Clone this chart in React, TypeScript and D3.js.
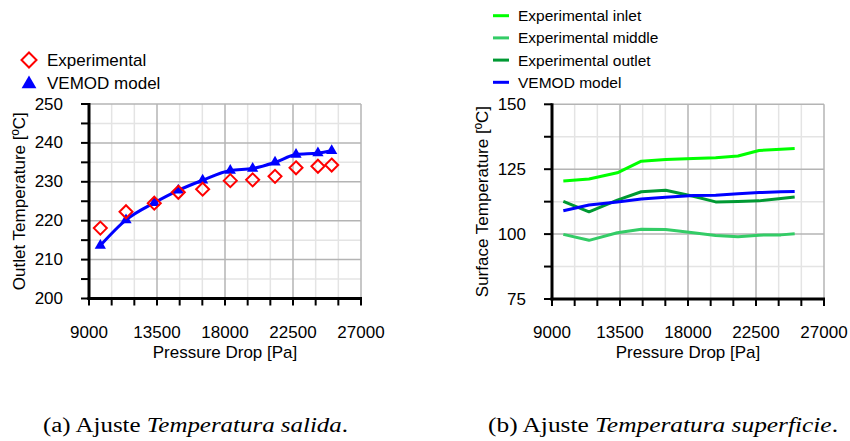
import React, { useEffect, useRef } from 'react';
import * as d3 from 'd3';

// pressure drop of each test point [Pa]
const pressure = [9750, 11450, 13320, 14910, 16520, 18350, 19830, 21310, 22700, 24150, 25060];

// (a) outlet temperature
const expOutlet = [218.1, 222.3, 224.5, 227.3, 228.1, 230.3, 230.5, 231.4, 233.6, 234.0, 234.3];
const modelOutlet = [213.6, 220.2, 224.6, 227.8, 230.4, 232.9, 233.4, 235.0, 237.0, 237.4, 238.0];

// (b) surface temperature
const surfInlet = [120.5, 121.2, 123.6, 128.1, 128.7, 129.1, 129.4, 130.1, 132.2, 132.7, 133.0];
const surfMiddle = [99.9, 97.6, 100.5, 101.9, 101.8, 100.5, 99.5, 99.0, 99.6, 99.7, 100.1];
const surfOutlet = [112.6, 108.6, 113.1, 116.3, 116.9, 114.6, 112.4, 112.6, 112.8, 113.7, 114.3];
const surfModel = [109.0, 111.2, 112.4, 113.5, 114.2, 114.9, 115.0, 115.5, 116.0, 116.3, 116.4];

const xTicks = [9000, 13500, 18000, 22500, 27000];
const outletTicks = [200, 210, 220, 230, 240, 250];
const surfaceTicks = [75, 100, 125, 150];

const FONT = 'Liberation Sans, Arial, sans-serif';

type G = d3.Selection<SVGGElement, unknown, null, undefined>;

// grid, axes and tick labels of one panel
function drawFrame(g: G, x: d3.ScaleLinear<number, number>, y: d3.ScaleLinear<number, number>,
  yMajor: number[], yStep: number, yTitle: string) {
  const [x0, x1] = x.range();
  const [y0, y1] = y.range();
  const xMinor = d3.range(9000, 27001, 1500);
  const yMinor = d3.range(yMajor[0], yMajor[yMajor.length - 1] + 0.01, yStep);

  // light grid first, then the major lines over it
  g.selectAll('.vminor').data(xMinor.filter(v => !xTicks.includes(v))).enter().append('line')
    .attr('x1', d => x(d)).attr('x2', d => x(d)).attr('y1', y0).attr('y2', y1)
    .attr('stroke', '#e4e4e4').attr('stroke-width', 1.5);
  g.selectAll('.hminor').data(yMinor.filter(v => !yMajor.includes(v))).enter().append('line')
    .attr('y1', d => y(d)).attr('y2', d => y(d)).attr('x1', x0).attr('x2', x1)
    .attr('stroke', '#e4e4e4').attr('stroke-width', 1.5);
  g.selectAll('.vmajor').data(xTicks).enter().append('line')
    .attr('x1', d => x(d)).attr('x2', d => x(d)).attr('y1', y0).attr('y2', y1)
    .attr('stroke', '#b4b4b4').attr('stroke-width', 1.5);
  g.selectAll('.hmajor').data(yMajor).enter().append('line')
    .attr('y1', d => y(d)).attr('y2', d => y(d)).attr('x1', x0).attr('x2', x1)
    .attr('stroke', '#b4b4b4').attr('stroke-width', 1.5);

  // ticks
  g.selectAll('.ytick').data(yMinor).enter().append('line')
    .attr('x1', x0 - 8).attr('x2', x0).attr('y1', d => y(d)).attr('y2', d => y(d))
    .attr('stroke', '#000').attr('stroke-width', 2);
  g.selectAll('.xtick').data(xMinor).enter().append('line')
    .attr('x1', d => x(d)).attr('x2', d => x(d)).attr('y1', y0).attr('y2', y0 + 7)
    .attr('stroke', '#000').attr('stroke-width', 2);

  // axis lines
  g.append('line').attr('x1', x0).attr('x2', x0).attr('y1', y0 + 1.5).attr('y2', y1 - 1)
    .attr('stroke', '#000').attr('stroke-width', 3);
  g.append('line').attr('x1', x0 - 1.5).attr('x2', x1 + 1).attr('y1', y0).attr('y2', y0)
    .attr('stroke', '#000').attr('stroke-width', 3);

  // labels
  g.selectAll('.ylab').data(yMajor).enter().append('text')
    .attr('x', x0 - 26).attr('y', d => y(d)).attr('text-anchor', 'end')
    .attr('dominant-baseline', 'central').attr('font-size', 17).text(d => d);
  g.selectAll('.xlab').data(xTicks).enter().append('text')
    .attr('x', d => x(d)).attr('y', 332).attr('text-anchor', 'middle')
    .attr('dominant-baseline', 'central').attr('font-size', 17).text(d => d);
  g.append('text').attr('x', (x0 + x1) / 2).attr('y', 352).attr('text-anchor', 'middle')
    .attr('dominant-baseline', 'central').attr('font-size', 17).text('Pressure Drop [Pa]');
  g.append('text')
    .attr('transform', `translate(${x0 - 70},${(y0 + y1) / 2}) rotate(-90)`)
    .attr('text-anchor', 'middle').attr('dominant-baseline', 'central')
    .attr('font-size', 17).text(yTitle);
}

const App = () => {
  const svgRef = useRef<SVGSVGElement>(null);

  useEffect(() => {
    const svg = d3.select(svgRef.current);
    svg.selectAll('*').remove();
    const root = svg.append('g').attr('font-family', FONT).attr('fill', '#000');

    // ---- (a) outlet temperature
    const xa = d3.scaleLinear().domain([9000, 27000]).range([89, 361]);
    const ya = d3.scaleLinear().domain([200, 250]).range([298.5, 104]);
    const ga = root.append('g');
    drawFrame(ga, xa, ya, outletTicks, 5, 'Outlet Temperature [ºC]');

    const modelLine = d3.line<number>()
      .x((_, i) => xa(pressure[i])).y(d => ya(d)).curve(d3.curveMonotoneX);
    ga.append('path').attr('d', modelLine(modelOutlet))
      .attr('fill', 'none').attr('stroke', '#0000ff').attr('stroke-width', 3);
    const tri = d3.symbol().type(d3.symbolTriangle).size(55);
    ga.selectAll('.tri').data(modelOutlet).enter().append('path')
      .attr('d', tri).attr('fill', '#0000ff')
      .attr('transform', (d, i) => `translate(${xa(pressure[i])},${ya(d)})`);
    const diamond = (cx: number, cy: number, r: number) =>
      `M${cx},${cy - r}L${cx + r},${cy}L${cx},${cy + r}L${cx - r},${cy}Z`;
    ga.selectAll('.dia').data(expOutlet).enter().append('path')
      .attr('d', (d, i) => diamond(xa(pressure[i]), ya(d), 6.5))
      .attr('fill', 'none').attr('stroke', '#ff0000').attr('stroke-width', 2);

    // legend (a)
    ga.append('path').attr('d', diamond(29, 60, 7.5))
      .attr('fill', '#fff').attr('stroke', '#ff0000').attr('stroke-width', 2);
    ga.append('path').attr('d', d3.symbol().type(d3.symbolTriangle).size(95)())
      .attr('transform', 'translate(29,84)').attr('fill', '#0000ff');
    ga.append('text').attr('x', 47).attr('y', 60).attr('dominant-baseline', 'central')
      .attr('font-size', 17).text('Experimental');
    ga.append('text').attr('x', 47).attr('y', 83).attr('dominant-baseline', 'central')
      .attr('font-size', 17).text('VEMOD model');

    // ---- (b) surface temperature
    const xb = d3.scaleLinear().domain([9000, 27000]).range([552, 824]);
    const yb = d3.scaleLinear().domain([75, 150]).range([299, 104.3]);
    const gb = root.append('g');
    drawFrame(gb, xb, yb, surfaceTicks, 12.5, 'Surface Temperature [ºC]');

    const series = [
      { name: 'Experimental inlet', values: surfInlet, color: '#00ff00' },
      { name: 'Experimental middle', values: surfMiddle, color: '#33cc66' },
      { name: 'Experimental outlet', values: surfOutlet, color: '#009933' },
      { name: 'VEMOD model', values: surfModel, color: '#0000ff' },
    ];
    const line = d3.line<number>().x((_, i) => xb(pressure[i])).y(d => yb(d));
    series.forEach((s, k) => {
      gb.append('path').attr('d', line(s.values))
        .attr('fill', 'none').attr('stroke', s.color).attr('stroke-width', 3)
        .attr('stroke-linejoin', 'round');
      const ly = 15.7 + k * 22.2;
      gb.append('line').attr('x1', 493).attr('x2', 509).attr('y1', ly).attr('y2', ly)
        .attr('stroke', s.color).attr('stroke-width', 3);
      gb.append('text').attr('x', 518).attr('y', ly).attr('dominant-baseline', 'central')
        .attr('font-size', 15.5).text(s.name);
    });

    // ---- captions
    const cap = root.append('g').attr('font-family', 'Liberation Serif, Times New Roman, serif')
      .attr('font-size', 20);
    const capA = cap.append('text').attr('x', 43).attr('y', 432)
      .attr('textLength', 305).attr('lengthAdjust', 'spacingAndGlyphs');
    capA.append('tspan').text('(a) Ajuste ');
    capA.append('tspan').attr('font-style', 'italic').text('Temperatura salida');
    capA.append('tspan').text('.');
    const capB = cap.append('text').attr('x', 488).attr('y', 432)
      .attr('textLength', 350).attr('lengthAdjust', 'spacingAndGlyphs');
    capB.append('tspan').text('(b) Ajuste ');
    capB.append('tspan').attr('font-style', 'italic').text('Temperatura superficie');
    capB.append('tspan').text('.');
  }, []);

  return (
    <svg ref={svgRef} width={850} height={441}
      style={{ position: 'absolute', left: 0, top: 0, background: '#fff' }} />
  );
};

export default App;
